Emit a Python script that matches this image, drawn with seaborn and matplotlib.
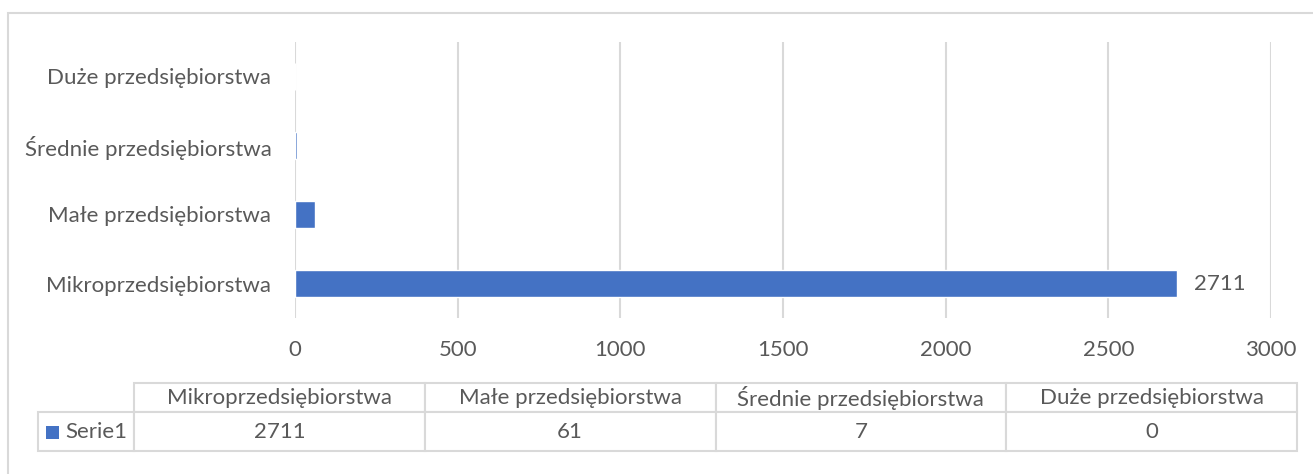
import matplotlib.pyplot as plt
import matplotlib.patches as mpatches
import pandas as pd
import seaborn as sns

# Data
categories = ['Mikroprzedsiębiorstwa', 'Małe przedsiębiorstwa',
              'Średnie przedsiębiorstwa', 'Duże przedsiębiorstwa']
values = [2711, 61, 7, 0]
series_name = 'Serie1'
x_ticks = [0, 500, 1000, 1500, 2000, 2500, 3000]

df = pd.DataFrame({'category': categories, 'value': values})

sns.set_style('white')
plt.rcParams['font.family'] = ['Lato', 'DejaVu Sans']
text_color = '#595959'
grid_color = '#d9d9d9'
bar_color = '#4472C4'
fs = 16

W, H = 1313, 474
fig = plt.figure(figsize=(W / 100, H / 100), dpi=100)

# Main bar axes
ax = fig.add_axes([295 / W, 1 - 318 / H, (1271 - 295) / W, (318 - 42) / H])
sns.barplot(data=df, x='value', y='category', order=categories[::-1],
            orient='h', color=bar_color, width=0.39, saturation=1, ax=ax)
ax.set_xlim(0, 3000)
ax.set_ylim(3.5, -0.5)
ax.set_xticks(x_ticks)
ax.set_xlabel('')
ax.set_ylabel('')
for s in ax.spines.values():
    s.set_visible(False)
ax.grid(axis='x', color=grid_color, lw=1.5)
ax.set_axisbelow(True)
ax.tick_params(axis='both', length=0, labelsize=fs, labelcolor=text_color)
ax.tick_params(axis='y', pad=17)
ax.tick_params(axis='x', pad=16)

# Value label only on the largest bar
cont = ax.containers[0]
ordered = df.set_index('category').loc[categories[::-1], 'value']
labels = [str(v) if v == max(values) else '' for v in ordered]
ax.bar_label(cont, labels=labels, padding=12, fontsize=fs, color=text_color)

# Data table
tax = fig.add_axes([38 / W, 1 - 451 / H, (1297 - 38) / W, (451 - 383) / H])
tax.axis('off')
cell_text = [[''] + categories, [''] + [str(v) for v in values]]
col_w = [96 / 1259] + [290.75 / 1259] * 4
tbl = tax.table(cellText=cell_text, colWidths=col_w, cellLoc='center',
                bbox=[0, 0, 1, 1])
tbl.auto_set_font_size(False)
for (r, c), cell in tbl.get_celld().items():
    cell.set_edgecolor(grid_color)
    cell.set_linewidth(1.5)
    cell.set_height(29 / 68 if r == 0 else 39 / 68)
    cell.get_text().set_fontsize(fs)
    cell.get_text().set_color(text_color)
tbl[0, 0].visible_edges = ''

# Legend key in the table row label
fig.patches.append(mpatches.Rectangle((46 / W, 1 - 439 / H), 13 / W, 13 / H,
                                      transform=fig.transFigure,
                                      facecolor=bar_color, edgecolor='none'))
fig.text(65 / W, 1 - 432 / H, series_name, color=text_color, fontsize=fs,
         va='center', ha='left')

# Chart border
fig.patches.append(mpatches.Rectangle((8 / W, -0.1), 1.2, 1 - 13 / H + 0.1,
                                      transform=fig.transFigure, fill=False,
                                      edgecolor=grid_color, lw=1.5))

fig.savefig('out.png', dpi=100)
